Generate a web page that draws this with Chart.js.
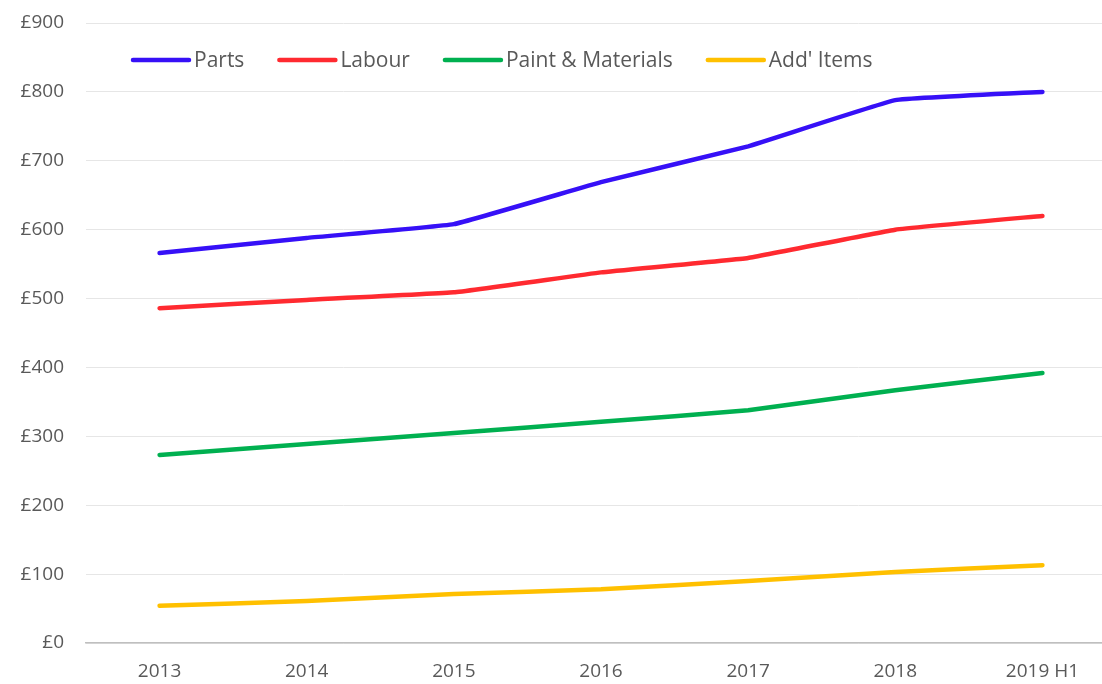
<!DOCTYPE html>
<html>
<head>
<meta charset="utf-8">
<script src="https://cdn.jsdelivr.net/npm/chart.js@4"></script>
<style>
  html, body { margin: 0; padding: 0; background: #fff; overflow: hidden; }
  #wrap { width: 1116px; height: 684px; }
</style>
</head>
<body>
<div id="wrap"><canvas id="costChart" width="1116" height="684"></canvas></div>
<script>
  // Average repair cost components by year
  const years = ["2013", "2014", "2015", "2016", "2017", "2018", "2019 H1"];
  const parts = [566, 588, 608, 669, 721, 788, 800];
  const labour = [486, 498, 509, 538, 559, 600, 620];
  const paintMaterials = [273, 289, 305, 321, 338, 367, 392];
  const addItems = [54, 61, 71, 78, 90, 103, 113];
  const seriesNames = ["Parts", "Labour", "Paint & Materials", "Add' Items"];
  const seriesColors = ["#3610f7", "#ff2a30", "#00b050", "#ffc000"];

  const FONT = "'Open Sans', sans-serif";
  const TEXT = "#595959";

  // legend drawn inside the plot, under the top gridline
  const inlineLegend = {
    id: "inlineLegend",
    afterDraw(chart) {
      const ctx = chart.ctx;
      ctx.save();
      ctx.font = "21px " + FONT;
      ctx.textBaseline = "middle";
      let x = 133;
      const y = 60;
      chart.data.datasets.forEach(ds => {
        ctx.strokeStyle = ds.borderColor;
        ctx.lineWidth = 4.5;
        ctx.lineCap = "round";
        ctx.beginPath();
        ctx.moveTo(x, y);
        ctx.lineTo(x + 56, y);
        ctx.stroke();
        ctx.fillStyle = TEXT;
        ctx.fillText(ds.label, x + 61, y + 1);
        x += 61 + ctx.measureText(ds.label).width + 35;
      });
      ctx.restore();
    }
  };

  const seriesData = [parts, labour, paintMaterials, addItems];

  new Chart(document.getElementById("costChart"), {
    type: "line",
    data: {
      labels: years,
      datasets: seriesData.map((vals, i) => ({
        label: seriesNames[i],
        data: vals,
        borderColor: seriesColors[i],
        backgroundColor: seriesColors[i],
        borderWidth: 4.5,
        borderCapStyle: "round",
        borderJoinStyle: "round",
        pointRadius: 0,
        tension: 0.08
      }))
    },
    options: {
      responsive: false,
      animation: false,
      layout: { padding: { top: 23, right: 0, left: 0, bottom: 0 } },
      plugins: {
        legend: { display: false },
        tooltip: { enabled: false }
      },
      scales: {
        x: {
          offset: true,
          grid: { display: false },
          border: { color: "#bfbfbf", width: 1.5 },
          ticks: {
            color: TEXT,
            font: { family: FONT, size: 19 },
            padding: 9,
            maxRotation: 0
          },
          afterFit(scale) { scale.height = 41; }
        },
        y: {
          min: 0,
          max: 900,
          grid: {
            color: "#e6e6e6",
            lineWidth: 1,
            drawTicks: false
          },
          border: { display: false },
          ticks: {
            stepSize: 100,
            color: TEXT,
            font: { family: FONT, size: 19 },
            padding: 22,
            callback: v => "£" + v
          },
          afterFit(scale) {
            scale.width = 86;
            scale.paddingTop = 0;
            scale.paddingBottom = 0;
          }
        }
      }
    },
    plugins: [inlineLegend]
  });
</script>
</body>
</html>
